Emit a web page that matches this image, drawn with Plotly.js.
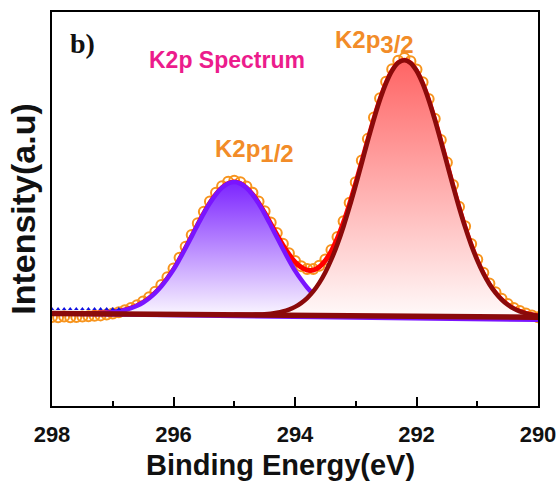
<!DOCTYPE html>
<html>
<head>
<meta charset="utf-8">
<script src="https://cdn.plot.ly/plotly-3.0.1.min.js"></script>
<style>html,body{margin:0;padding:0;background:#fff;}#chart{width:560px;height:492px;}</style>
</head>
<body>
<div id="chart"></div>
<script>
// Binding energy grid of the measured points (eV)
const energy = [298.0,297.9,297.8,297.7,297.6,297.5,297.4,297.3,297.2,297.1,297.0,296.9,296.8,296.7,296.6,296.5,296.4,296.3,296.2,296.1,296.0,295.9,295.8,295.7,295.6,295.5,295.4,295.3,295.2,295.1,295.0,294.9,294.8,294.7,294.6,294.5,294.4,294.3,294.2,294.1,294.0,293.9,293.8,293.7,293.6,293.5,293.4,293.3,293.2,293.1,293.0,292.9,292.8,292.7,292.6,292.5,292.4,292.3,292.2,292.1,292.0,291.9,291.8,291.7,291.6,291.5,291.4,291.3,291.2,291.1,291.0,290.9,290.8,290.7,290.6,290.5,290.4,290.3,290.2,290.1,290.0];
// Measured intensity (open orange circles)
const measured = [22.6,22.5,22.7,22.5,22.6,22.7,22.8,22.9,23.0,23.2,23.5,23.8,24.3,24.9,25.6,26.5,27.6,29.0,30.7,32.7,34.9,37.6,40.4,43.4,46.4,49.3,51.9,54.1,55.8,56.9,57.2,56.8,55.7,54.1,51.9,49.4,46.6,43.9,41.2,38.8,36.8,35.5,34.8,34.8,35.6,37.2,39.6,42.9,46.9,51.6,56.8,62.3,67.8,73.2,78.1,82.3,85.5,87.6,88.3,87.5,85.4,82.2,77.9,72.9,67.5,61.8,56.1,50.6,45.6,41.1,37.2,33.8,31.1,28.9,27.2,25.9,24.9,24.1,23.5,23.0,22.5];
// Fitted envelope (red)
const envelope = [23.50,23.49,23.48,23.46,23.45,23.48,23.49,23.52,23.58,23.68,23.83,24.04,24.36,24.82,25.45,26.27,27.35,28.71,30.38,32.37,34.61,37.27,40.10,43.05,46.03,48.91,51.53,53.73,55.42,56.48,56.83,56.45,55.37,53.75,51.58,49.03,46.28,43.51,40.87,38.51,36.52,35.23,34.50,34.50,35.30,36.92,39.38,42.63,46.65,51.33,56.52,62.00,67.57,72.94,77.84,81.99,85.13,87.11,87.78,87.08,85.08,81.88,77.68,72.70,67.24,61.54,55.87,50.42,45.39,40.88,36.96,33.63,30.90,28.71,27.00,25.69,24.71,24.01,23.50,23.14,22.90];

// K2p1/2 component (purple)
const k12Energy = [297.5,297.4,297.3,297.2,297.1,297.0,296.9,296.8,296.7,296.6,296.5,296.4,296.3,296.2,296.1,296.0,295.9,295.8,295.7,295.6,295.5,295.4,295.3,295.2,295.1,295.0,294.9,294.8,294.7,294.6,294.5,294.4,294.3,294.2,294.1,294.0,293.9,293.8,293.7];
const k12Base = [23.44,23.43,23.41,23.40,23.39,23.38,23.36,23.35,23.34,23.33,23.31,23.30,23.29,23.28,23.26,23.25,23.24,23.23,23.21,23.20,23.19,23.18,23.16,23.15,23.14,23.13,23.11,23.10,23.09,23.08,23.06,23.05,23.04,23.03,23.01,23.00,22.99,22.98,22.96];
const k12Fit = [23.48,23.49,23.52,23.58,23.68,23.83,24.04,24.36,24.82,25.45,26.27,27.35,28.71,30.38,32.37,34.61,37.27,40.10,43.05,46.03,48.91,51.53,53.73,55.42,56.48,56.83,56.45,55.37,53.66,51.43,48.78,45.88,42.88,39.90,37.04,34.36,32.10,30.08,28.38];

// K2p3/2 component (dark red)
const k32Energy = [295.0,294.9,294.8,294.7,294.6,294.5,294.4,294.3,294.2,294.1,294.0,293.9,293.8,293.7,293.6,293.5,293.4,293.3,293.2,293.1,293.0,292.9,292.8,292.7,292.6,292.5,292.4,292.3,292.2,292.1,292.0,291.9,291.8,291.7,291.6,291.5,291.4,291.3,291.2,291.1,291.0,290.9,290.8,290.7,290.6,290.5,290.4,290.3,290.2,290.1,290.0];
const k32Base = [23.13,23.11,23.10,23.09,23.08,23.06,23.05,23.04,23.03,23.01,23.00,22.99,22.98,22.96,22.95,22.94,22.93,22.91,22.90,22.89,22.88,22.86,22.85,22.84,22.83,22.81,22.80,22.79,22.78,22.76,22.75,22.74,22.73,22.71,22.70,22.69,22.68,22.66,22.65,22.64,22.63,22.61,22.60,22.59,22.58,22.56,22.55,22.54,22.53,22.51,22.50];
const k32Fit = [23.15,23.14,23.15,23.18,23.23,23.31,23.45,23.67,24.00,24.48,25.16,26.12,27.40,29.08,31.25,33.96,37.26,41.15,45.64,50.65,56.07,61.71,67.39,72.83,77.78,81.95,85.13,87.11,87.78,87.08,85.08,81.88,77.68,72.70,67.24,61.54,55.87,50.42,45.39,40.88,36.96,33.63,30.90,28.71,27.00,25.69,24.71,24.01,23.50,23.14,22.90];

// Backgrounds
const bgEnergy = [298.0, 290.0];
const bgPurple = [23.4, 21.8];
const bgRed = [23.5, 22.5];
// Blue background markers on the left
const blueEnergy = [298.0,297.9,297.8,297.7,297.6,297.5,297.4,297.3,297.2,297.1,297.0,296.9];
const blueY = [24.6,24.6,24.6,24.6,24.6,24.6,24.6,24.6,24.6,24.6,24.6,24.6];

const tickVals = [298, 296, 294, 292, 290];
const tickText = ['298', '296', '294', '292', '290'];

const FONT = 'Liberation Sans, Arial, sans-serif';

const traces = [
  {x: energy, y: measured, mode: 'markers', type: 'scatter',
   marker: {symbol: 'circle-open', size: 10, color: '#F7941D', line: {width: 2, color: '#F7941D'}}},
  {x: energy, y: envelope, mode: 'lines', type: 'scatter',
   line: {color: '#FF0000', width: 5, shape: 'spline'}},
  {x: k12Energy, y: k12Base, mode: 'lines', type: 'scatter', line: {width: 0, color: 'rgba(0,0,0,0)'}},
  {x: k12Energy, y: k12Fit, mode: 'lines', type: 'scatter', fill: 'tonexty',
   fillgradient: {type: 'vertical', colorscale: [[0, 'rgba(250,246,255,1)'], [1, 'rgba(124,36,255,1)']]},
   line: {color: '#7A14FF', width: 4.5, shape: 'spline'}},
  {x: k32Energy, y: k32Base, mode: 'lines', type: 'scatter', line: {width: 0, color: 'rgba(0,0,0,0)'}},
  {x: k32Energy, y: k32Fit, mode: 'lines', type: 'scatter', fill: 'tonexty',
   fillgradient: {type: 'vertical', colorscale: [[0, 'rgba(255,250,250,1)'], [1, 'rgba(255,100,100,1)']]},
   line: {color: '#8B0A0A', width: 4.5, shape: 'spline'}},
  {x: bgEnergy, y: bgPurple, mode: 'lines', type: 'scatter', line: {color: '#7A14FF', width: 4}},
  {x: bgEnergy, y: bgRed, mode: 'lines', type: 'scatter', line: {color: '#8B0A0A', width: 5.5}},
  {x: blueEnergy, y: blueY, mode: 'markers', type: 'scatter',
   marker: {symbol: 'triangle-up', size: 4, color: '#1010E0'}}
];

const layout = {
  width: 560, height: 492,
  margin: {l: 52, r: 22, t: 12, b: 86},
  showlegend: false,
  paper_bgcolor: '#ffffff', plot_bgcolor: '#ffffff',
  xaxis: {
    range: [298, 290], tickvals: tickVals, ticktext: tickText,
    ticks: 'inside', ticklen: 9, tickwidth: 2, tickcolor: '#000',
    minor: {dtick: 1, tick0: 290, ticks: 'inside', ticklen: 5, tickwidth: 2, tickcolor: '#000', showgrid: false},
    showline: true, linecolor: '#000', linewidth: 2, mirror: true,
    showgrid: false, zeroline: false,
    tickfont: {family: FONT, size: 22, color: '#111', weight: 'bold'},
    ticklabelstandoff: 8
  },
  yaxis: {
    range: [0, 100], showticklabels: false, ticks: '',
    showline: true, linecolor: '#000', linewidth: 2, mirror: true,
    showgrid: false, zeroline: false,
    title: {text: 'Intensity(a.u)', font: {family: FONT, size: 34, color: '#111', weight: 'bold'}, standoff: 4}
  },
  annotations: [
    {xref: 'paper', yref: 'paper', x: 0.471, xanchor: 'center', y: -0.150, yanchor: 'middle',
     text: 'Binding Energy(eV)', showarrow: false,
     font: {family: FONT, size: 29, color: '#111', weight: 'bold'}},
    {xref: 'paper', yref: 'paper', x: 0.033, xanchor: 'left', y: 0.92, yanchor: 'middle',
     text: 'b)', showarrow: false,
     font: {family: 'Liberation Serif, Times New Roman, serif', size: 28, color: '#111', weight: 'bold'}},
    {xref: 'paper', yref: 'paper', x: 0.196, xanchor: 'left', y: 0.878, yanchor: 'middle',
     text: 'K2p Spectrum', showarrow: false,
     font: {family: FONT, size: 23, color: '#EC1C8C', weight: 'bold'}},
    {xref: 'paper', yref: 'paper', x: 0.331, xanchor: 'left', y: 0.647, yanchor: 'middle',
     text: "K2p<sub><span style='font-size:24px'>1/2</span></sub>", showarrow: false,
     font: {family: FONT, size: 24, color: '#F28C28', weight: 'bold'}},
    {xref: 'paper', yref: 'paper', x: 0.578, xanchor: 'left', y: 0.923, yanchor: 'middle',
     text: "K2p<sub><span style='font-size:24px'>3/2</span></sub>", showarrow: false,
     font: {family: FONT, size: 24, color: '#F28C28', weight: 'bold'}}
  ]
};

Plotly.newPlot('chart', traces, layout, {displayModeBar: false, staticPlot: true});
</script>
</body>
</html>
